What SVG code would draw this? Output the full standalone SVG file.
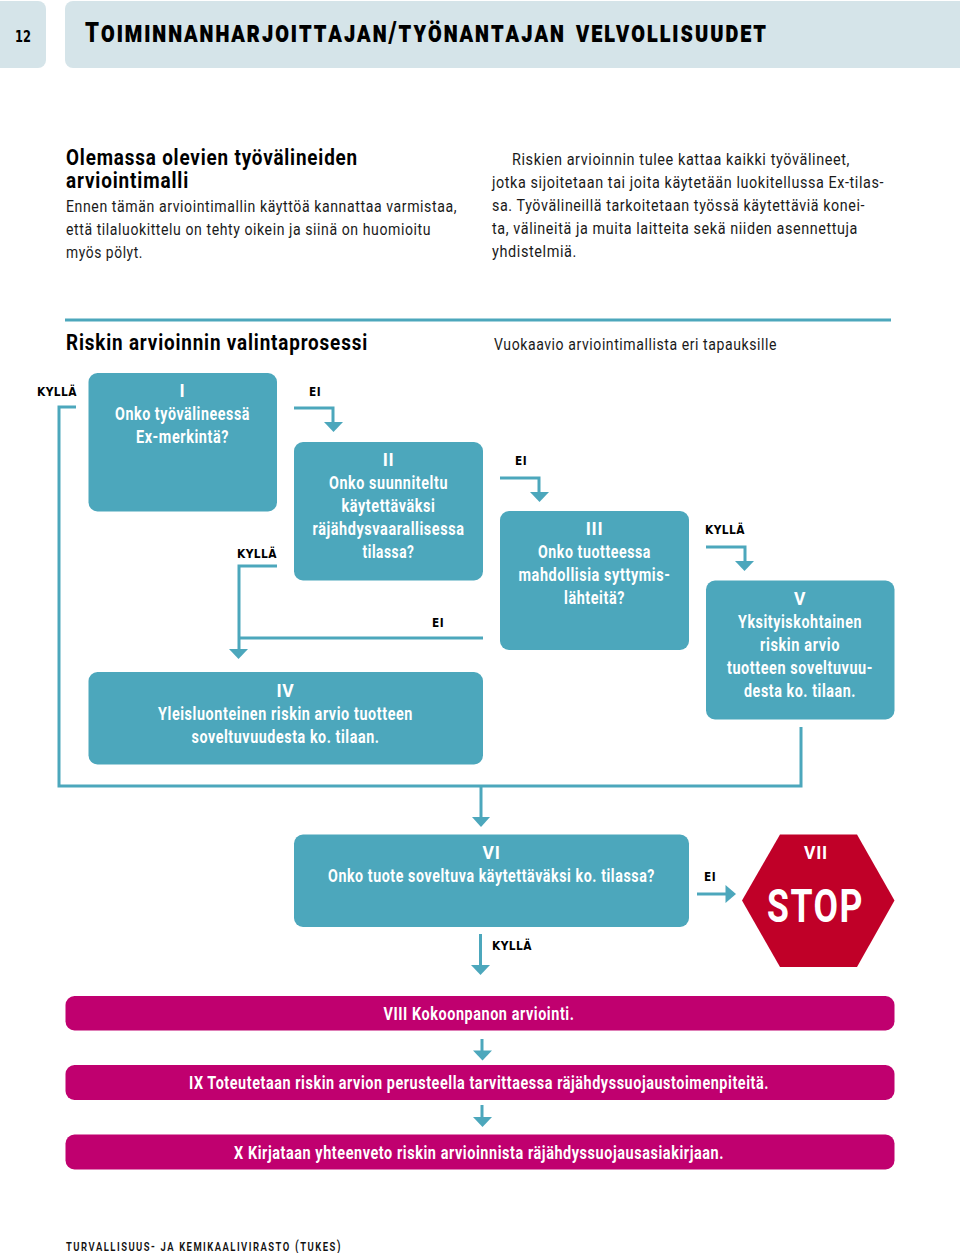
<svg xmlns="http://www.w3.org/2000/svg" width="960" height="1253" viewBox="0 0 960 1253">
<style>
text{font-family:"Roboto","Liberation Sans",sans-serif;font-size:17px;fill:#1a1a1a;letter-spacing:.7px}
.h{font-weight:700;font-size:22.500px;fill:#000;letter-spacing:1px}
.n{font-weight:700;fill:#fff;text-anchor:middle;font-size:17.500px;letter-spacing:.7px}
.l{font-family:"DejaVu Sans","Liberation Sans",sans-serif;font-weight:700;font-size:12px;fill:#000;letter-spacing:.5px}
.t{fill:#4ca7bc}.m{fill:#c0006f}.p{fill:#d5e4e9}
.c{fill:none;stroke:#4ca7bc;stroke-width:3}
.a{fill:#4ca7bc}
.sc{font-variant:small-caps}
</style>
<g id="header">
<path class="p" d="M0 1H38a8 8 0 0 1 8 8V60a8 8 0 0 1-8 8H0Z"/>
<path class="p" d="M65 9a8 8 0 0 1 8-8H960V68H73a8 8 0 0 1-8-8Z"/>
<text x="15" y="41.500" textLength="16" lengthAdjust="spacingAndGlyphs" style="font-family:'DejaVu Sans';font-weight:700;font-size:16px;fill:#000;letter-spacing:0">12</text>
<text x="85" y="42" textLength="683" lengthAdjust="spacingAndGlyphs" style="font-weight:900;fill:#000;letter-spacing:2.500px;word-spacing:3px"><tspan style="font-size:28px">T</tspan><tspan class="sc" style="font-size:29px">oiminnanharjoittajan/työnantajan velvollisuudet</tspan></text>
</g>
<g id="intro">
<text class="h" x="66" y="165" textLength="292" lengthAdjust="spacingAndGlyphs">Olemassa olevien työvälineiden</text>
<text class="h" x="66" y="188" textLength="123" lengthAdjust="spacingAndGlyphs">arviointimalli</text>
<text x="66" y="211.500" textLength="391" lengthAdjust="spacingAndGlyphs">Ennen tämän arviointimallin käyttöä kannattaa varmistaa,</text>
<text x="66" y="234.500" textLength="365" lengthAdjust="spacingAndGlyphs">että tilaluokittelu on tehty oikein ja siinä on huomioitu</text>
<text x="66" y="257.500" textLength="77" lengthAdjust="spacingAndGlyphs">myös pölyt.</text>
<text x="512" y="165" textLength="338" lengthAdjust="spacingAndGlyphs">Riskien arvioinnin tulee kattaa kaikki työvälineet,</text>
<text x="492" y="188" textLength="392" lengthAdjust="spacingAndGlyphs">jotka sijoitetaan tai joita käytetään luokitellussa Ex-tilas-</text>
<text x="492" y="211" textLength="373" lengthAdjust="spacingAndGlyphs">sa. Työvälineillä tarkoitetaan työssä käytettäviä konei-</text>
<text x="492" y="234" textLength="366" lengthAdjust="spacingAndGlyphs">ta, välineitä ja muita laitteita sekä niiden asennettuja</text>
<text x="492" y="257" textLength="85" lengthAdjust="spacingAndGlyphs">yhdistelmiä.</text>
</g>
<g id="section">
<rect class="t" x="65" y="318.500" width="826" height="3"/>
<text class="h" x="66" y="350" textLength="302" lengthAdjust="spacingAndGlyphs">Riskin arvioinnin valintaprosessi</text>
<text x="494" y="350" textLength="283" lengthAdjust="spacingAndGlyphs">Vuokaavio arviointimallista eri tapauksille</text>
</g>
<g id="connectors">
<path class="c" d="M76 407H59V786H801V727"/>
<path class="c" d="M481 787V819"/><path class="a" d="M472 817h18l-9 10Z"/>
<path class="c" d="M294 408H333V424"/><path class="a" d="M324 422h19l-9.500 10Z"/>
<path class="c" d="M277 566H239V652"/><path class="c" d="M239 638H483"/><path class="a" d="M229 649h19l-9.500 10Z"/>
<path class="c" d="M500 478H539V494"/><path class="a" d="M530 492h19l-9.500 10Z"/>
<path class="c" d="M706 547H745V563"/><path class="a" d="M735 561h19l-9.500 10Z"/>
<path class="c" d="M697 894H727"/><path class="a" d="M725.500 885V903L736 894Z"/>
<path class="c" d="M480.500 934V967"/><path class="a" d="M471 965h19l-9.500 10Z"/>
<path class="c" d="M482 1039V1052"/><path class="a" d="M473 1050.500h19l-9.500 10Z"/>
<path class="c" d="M482 1105V1119"/><path class="a" d="M473 1117h19l-9.500 10Z"/>
</g>
<g id="labels">
<text class="l" x="37" y="396" textLength="40" lengthAdjust="spacingAndGlyphs">KYLLÄ</text>
<text class="l" x="309" y="396" textLength="12" lengthAdjust="spacingAndGlyphs">EI</text>
<text class="l" x="237" y="558" textLength="40" lengthAdjust="spacingAndGlyphs">KYLLÄ</text>
<text class="l" x="432" y="627" textLength="12" lengthAdjust="spacingAndGlyphs">EI</text>
<text class="l" x="515" y="465" textLength="12" lengthAdjust="spacingAndGlyphs">EI</text>
<text class="l" x="705" y="534" textLength="40" lengthAdjust="spacingAndGlyphs">KYLLÄ</text>
<text class="l" x="704" y="881" textLength="12" lengthAdjust="spacingAndGlyphs">EI</text>
<text class="l" x="492" y="950" textLength="40" lengthAdjust="spacingAndGlyphs">KYLLÄ</text>
</g>
<g id="node-1"><rect class="t" x="88.500" y="373" width="188.500" height="138.500" rx="9"/>
<text class="n" x="182.500" y="396.500">I</text>
<text class="n" x="182.500" y="419.500" textLength="135" lengthAdjust="spacingAndGlyphs">Onko työvälineessä</text>
<text class="n" x="182.500" y="442.500" textLength="93" lengthAdjust="spacingAndGlyphs">Ex-merkintä?</text></g>
<g id="node-2"><rect class="t" x="294" y="442" width="189" height="138.500" rx="9"/>
<text class="n" x="388.500" y="465.500">II</text>
<text class="n" x="388.500" y="488.500" textLength="119" lengthAdjust="spacingAndGlyphs">Onko suunniteltu</text>
<text class="n" x="388.500" y="511.500" textLength="94" lengthAdjust="spacingAndGlyphs">käytettäväksi</text>
<text class="n" x="388.500" y="534.500" textLength="152" lengthAdjust="spacingAndGlyphs">räjähdysvaarallisessa</text>
<text class="n" x="388.500" y="557.500" textLength="52" lengthAdjust="spacingAndGlyphs">tilassa?</text></g>
<g id="node-3"><rect class="t" x="500" y="511" width="189" height="139" rx="9"/>
<text class="n" x="594.500" y="534.500">III</text>
<text class="n" x="594.500" y="557.500" textLength="113" lengthAdjust="spacingAndGlyphs">Onko tuotteessa</text>
<text class="n" x="594.500" y="580.500" textLength="152" lengthAdjust="spacingAndGlyphs">mahdollisia syttymis-</text>
<text class="n" x="594.500" y="603.500" textLength="61" lengthAdjust="spacingAndGlyphs">lähteitä?</text></g>
<g id="node-4"><rect class="t" x="88.500" y="672" width="394.500" height="92.500" rx="9"/>
<text class="n" x="285.500" y="696.500">IV</text>
<text class="n" x="285.500" y="719.500" textLength="255" lengthAdjust="spacingAndGlyphs">Yleisluonteinen riskin arvio tuotteen</text>
<text class="n" x="285.500" y="742.500" textLength="188" lengthAdjust="spacingAndGlyphs">soveltuvuudesta ko. tilaan.</text></g>
<g id="node-5"><rect class="t" x="706" y="580.500" width="188.500" height="139" rx="9"/>
<text class="n" x="800" y="604.500">V</text>
<text class="n" x="800" y="627.500" textLength="124" lengthAdjust="spacingAndGlyphs">Yksityiskohtainen</text>
<text class="n" x="800" y="650.500" textLength="80" lengthAdjust="spacingAndGlyphs">riskin arvio</text>
<text class="n" x="800" y="673.500" textLength="146" lengthAdjust="spacingAndGlyphs">tuotteen soveltuvuu-</text>
<text class="n" x="800" y="696.500" textLength="112" lengthAdjust="spacingAndGlyphs">desta ko. tilaan.</text></g>
<g id="node-6"><rect class="t" x="294" y="834.500" width="395" height="92.500" rx="9"/>
<text class="n" x="491.500" y="858.500">VI</text>
<text class="n" x="491.500" y="881.500" textLength="327" lengthAdjust="spacingAndGlyphs">Onko tuote soveltuva käytettäväksi ko. tilassa?</text></g>
<g id="node-7"><path fill="#c00028" d="M742 900.500L780 834.500H857L894.500 900.500L857 967H780Z"/>
<text class="n" x="816" y="858.500">VII</text>
<text class="n" x="815.500" y="922" textLength="97" lengthAdjust="spacingAndGlyphs" style="font-size:46px;letter-spacing:2px">STOP</text></g>
<g id="node-8"><rect class="m" x="65.500" y="996" width="829" height="34.500" rx="9"/>
<text class="n" x="479" y="1019.500" textLength="191" lengthAdjust="spacingAndGlyphs">VIII Kokoonpanon arviointi.</text></g>
<g id="node-9"><rect class="m" x="65.500" y="1065" width="829" height="35" rx="9"/>
<text class="n" x="479" y="1088.500" textLength="580" lengthAdjust="spacingAndGlyphs">IX Toteutetaan riskin arvion perusteella tarvittaessa räjähdyssuojaustoimenpiteitä.</text></g>
<g id="node-10"><rect class="m" x="65.500" y="1134.500" width="829" height="35" rx="9"/>
<text class="n" x="479" y="1158.500" textLength="490" lengthAdjust="spacingAndGlyphs">X Kirjataan yhteenveto riskin arvioinnista räjähdyssuojausasiakirjaan.</text></g>
<text class="sc" x="66" y="1250.500" textLength="276" lengthAdjust="spacingAndGlyphs" style="font-size:15px;font-weight:500;fill:#111;letter-spacing:2px">turvallisuus- ja kemikaalivirasto (tukes)</text>
</svg>
